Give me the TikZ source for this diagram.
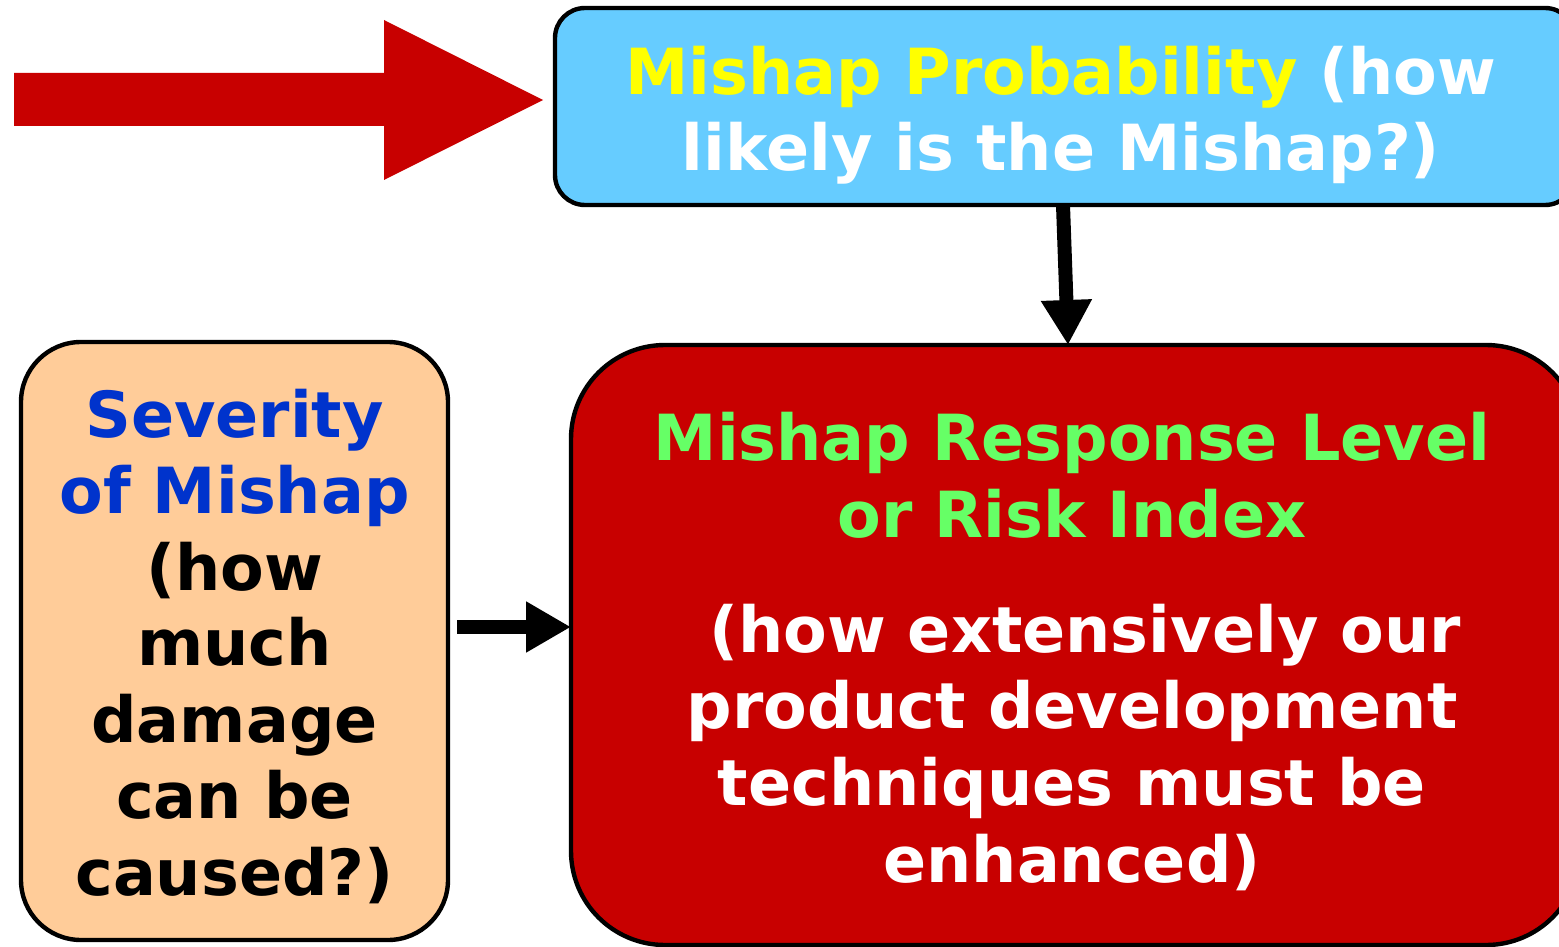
\documentclass[tikz,border=0pt]{standalone}
\usepackage{fontspec}
\setmainfont{DejaVu Sans}
\usetikzlibrary{arrows.meta}
\definecolor{deepred}{HTML}{C80000}
\definecolor{skyfill}{HTML}{66CCFF}
\definecolor{peach}{HTML}{FFCC99}
\definecolor{hiyellow}{HTML}{FFFF00}
\definecolor{higreen}{HTML}{66FF66}
\definecolor{royal}{HTML}{0033CC}
\tikzset{
  panel/.style={draw=black, line width=2.2pt, rectangle, inner sep=0pt, outer sep=0pt},
  lbl/.style={anchor=base, inner sep=0pt, font=\fontsize{31.8}{38}\selectfont\bfseries},
  flow/.style={line width=7pt, -{Triangle[length=22.5pt,width=24pt]}},
}
\begin{document}
\begin{tikzpicture}[x=0.5pt, y=-0.5pt]
\useasboundingbox (0,0) rectangle (1559,947);

% incoming red block arrow
\fill[deepred] (14,73) -- (384,73) -- (384,20) -- (543,100) -- (384,180)
  -- (384,126) -- (14,126) -- cycle;

% boxes
\node[panel, fill=skyfill, rounded corners=15pt, minimum width=510pt, minimum height=98.5pt]
  (prob) at (1065,106.5) {};
\node[panel, fill=peach, rounded corners=30pt, minimum width=213.5pt, minimum height=299pt]
  (sev) at (234.5,641) {};
\node[panel, fill=deepred, rounded corners=47pt, minimum width=504.5pt, minimum height=300pt]
  (risk) at (1075.5,645) {};

% probability text
\node[lbl] (p1) at (1061,95) {\textcolor{hiyellow}{Mishap Probability} \textcolor{white}{(how}};
\node[lbl, text=white] (p2) at (1061,170) {likely is the Mishap?)};

% severity text
\node[lbl, text=royal] (s1) at (234.5,437) {Severity};
\node[lbl, text=royal] (s2) at (234.5,513) {of Mishap};
\node[lbl] (s3) at (234.5,590) {(how};
\node[lbl] (s4) at (234.5,665) {much};
\node[lbl] (s5) at (234.5,742) {damage};
\node[lbl] (s6) at (234.5,818) {can be};
\node[lbl] (s7) at (234.5,895) {caused?)};

% risk text
\node[lbl, text=higreen] (r1) at (1072,460) {Mishap Response Level};
\node[lbl, text=higreen] (r2) at (1072,537) {or Risk Index};
\node[lbl, text=white] (r3) at (1085,652) {(how extensively our};
\node[lbl, text=white] (r4) at (1072,728) {product development};
\node[lbl, text=white] (r5) at (1072,805) {techniques must be};
\node[lbl, text=white] (r6) at (1072,882) {enhanced)};

% connectors
\draw[flow] ([xshift=-1pt]prob.south) -- ([xshift=-3.75pt]risk.north);
\draw[flow] ([xshift=4.5pt,yshift=7pt]sev.east) -- ([yshift=9pt]risk.west);
\end{tikzpicture}
\end{document}
